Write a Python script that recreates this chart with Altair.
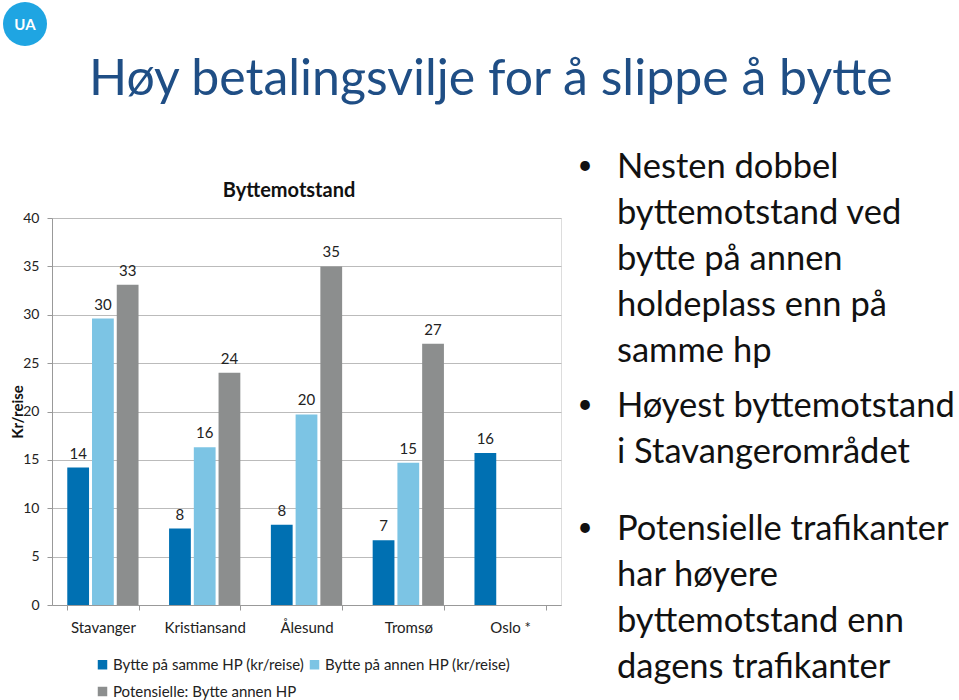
import altair as alt
import pandas as pd

cities = ["Stavanger", "Kristiansand", "Ålesund", "Tromsø", "Oslo *"]
series = ["Bytte på samme HP (kr/reise)", "Bytte på annen HP (kr/reise)", "Potensielle: Bytte annen HP"]
same_hp = [14.2, 7.9, 8.3, 6.7, 15.7]
other_hp = [29.6, 16.3, 19.7, 14.7, None]
potential = [33.1, 24.0, 35.0, 27.0, None]
colors = ["#0070B2", "#7CC4E4", "#8C8E8E"]

title_text = "Høy betalingsvilje for å slippe å bytte"
chart_title = "Byttemotstand"
bullets = [
    ["Nesten dobbel", "byttemotstand ved", "bytte på annen", "holdeplass enn på", "samme hp"],
    ["Høyest byttemotstand", "i Stavangerområdet"],
    ["Potensielle trafikanter", "har høyere", "byttemotstand enn", "dagens trafikanter"],
]

rows = []
for s, vals in zip(series, [same_hp, other_hp, potential]):
    for c, v in zip(cities, vals):
        if v is not None:
            rows.append({"city": c, "series": s, "value": v, "label": str(int(round(v)))})
df = pd.DataFrame(rows)

W, H = 509, 387
PL, PT = 52, 218
FONT = "Lato"

base = alt.Chart(df).encode(
    x=alt.X("city:N", sort=cities, title=None,
            scale=alt.Scale(paddingInner=0.3, paddingOuter=0.15),
            axis=alt.Axis(labelAngle=0, labelFontSize=15, labelFont=FONT, labelColor="#222",
                          labelPadding=10, tickBand="extent", tickSize=5, tickColor="#999",
                          domainColor="#999", grid=False)),
    xOffset=alt.XOffset("series:N", sort=series, scale=alt.Scale(domain=series, paddingInner=0.12)),
)

bars = base.mark_bar().encode(
    y=alt.Y("value:Q", title="Kr/reise",
            scale=alt.Scale(domain=[0, 40], nice=False),
            axis=alt.Axis(values=list(range(0, 45, 5)), labelFontSize=14, labelFont=FONT,
                          labelColor="#222", labelPadding=8, tickSize=5, tickColor="#999",
                          domainColor="#999", gridColor="#BBBBBB",
                          titleFont=FONT, titleFontSize=15, titleFontWeight="bold", titleColor="#111",
                          titleAngle=-90, titleX=-35, titleY=H / 2, titleAlign="center",
                          titleBaseline="middle")),
    color=alt.Color("series:N", sort=series, scale=alt.Scale(domain=series, range=colors),
                    legend=alt.Legend(title=None, orient="none", legendX=43, legendY=439,
                                      direction="horizontal", columns=2, symbolType="square",
                                      symbolSize=90, labelFontSize=15, labelFont=FONT,
                                      labelColor="#222", rowPadding=11, columnPadding=2,
                                      labelOffset=3, labelLimit=0, symbolStrokeWidth=0)),
)

labels = base.mark_text(baseline="bottom", dy=-6, fontSize=15, font=FONT, color="#222").encode(
    y="value:Q", text="label:N"
)

one = pd.DataFrame({"a": [0]})

ctitle = alt.Chart(one).mark_text(fontSize=20, fontWeight="bold", font=FONT, color="#111",
                                  align="center", baseline="middle").encode(
    x=alt.value(289 - PL), y=alt.value(191 - PT), text=alt.value(chart_title))

stitle = alt.Chart(one).mark_text(fontSize=50, font=FONT, color="#1F4E85",
                                  align="left", baseline="alphabetic").encode(
    x=alt.value(89 - PL), y=alt.value(95 - PT), text=alt.value(title_text))

logo = alt.Chart(one).mark_point(filled=True, shape="circle", size=1936, color="#1FA5E2",
                                 opacity=1).encode(x=alt.value(25 - PL), y=alt.value(24 - PT))
logo_t = alt.Chart(one).mark_text(fontSize=15, fontWeight="bold", font=FONT, color="white",
                                  align="center", baseline="middle").encode(
    x=alt.value(25 - PL), y=alt.value(25 - PT), text=alt.value("UA"))

layers = [bars, labels, ctitle, stitle, logo, logo_t]
starts = [168, 407, 530]
for lines, y0 in zip(bullets, starts):
    layers.append(alt.Chart(one).mark_text(fontSize=34.5, font=FONT, color="#111", align="left",
                                           baseline="middle", lineHeight=46).encode(
        x=alt.value(617 - PL), y=alt.value(y0 - PT), text=alt.value(lines)))
    layers.append(alt.Chart(one).mark_text(fontSize=26, font=FONT, color="#111", align="center",
                                           baseline="middle").encode(
        x=alt.value(585 - PL), y=alt.value(y0 - 2 - PT), text=alt.value("•")))

chart = alt.layer(*layers).properties(
    width=W, height=H,
    padding={"left": PL, "top": PT, "right": 959 - PL - W, "bottom": 700 - PT - H},
    autosize=alt.AutoSizeParams(type="none"),
).configure_view(stroke=None).configure(background="white")

chart.save("out.html", embed_options={"renderer": "svg", "actions": False})
